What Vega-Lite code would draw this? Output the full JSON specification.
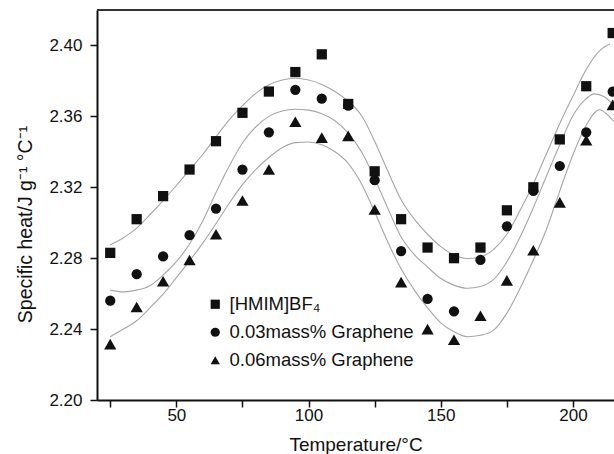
{
  "$schema": "https://vega.github.io/schema/vega-lite/v6.json",
  "width": 517,
  "height": 390,
  "autosize": {"type": "none"},
  "padding": {"left": 97, "top": 10, "right": 0, "bottom": 54},
  "background": "white",
  "config": {
    "view": {"stroke": null},
    "font": "Liberation Sans",
    "axis": {"labelFont": "Liberation Sans", "titleFont": "Liberation Sans", "labelColor": "#111", "titleColor": "#111", "titleFontWeight": "normal", "grid": false, "domainColor": "#111", "domainWidth": 2, "tickColor": "#111", "tickWidth": 1.5}
  },
  "datasets": {
    "pts": [
      {"t": 25, "cp": 2.283, "s": "[HMIM]BF₄"}, {"t": 35, "cp": 2.302, "s": "[HMIM]BF₄"}, {"t": 45, "cp": 2.315, "s": "[HMIM]BF₄"}, {"t": 55, "cp": 2.330, "s": "[HMIM]BF₄"}, {"t": 65, "cp": 2.346, "s": "[HMIM]BF₄"},
      {"t": 75, "cp": 2.362, "s": "[HMIM]BF₄"}, {"t": 85, "cp": 2.374, "s": "[HMIM]BF₄"}, {"t": 95, "cp": 2.385, "s": "[HMIM]BF₄"}, {"t": 105, "cp": 2.395, "s": "[HMIM]BF₄"}, {"t": 115, "cp": 2.367, "s": "[HMIM]BF₄"},
      {"t": 125, "cp": 2.329, "s": "[HMIM]BF₄"}, {"t": 135, "cp": 2.302, "s": "[HMIM]BF₄"}, {"t": 145, "cp": 2.286, "s": "[HMIM]BF₄"}, {"t": 155, "cp": 2.280, "s": "[HMIM]BF₄"}, {"t": 165, "cp": 2.286, "s": "[HMIM]BF₄"},
      {"t": 175, "cp": 2.307, "s": "[HMIM]BF₄"}, {"t": 185, "cp": 2.320, "s": "[HMIM]BF₄"}, {"t": 195, "cp": 2.347, "s": "[HMIM]BF₄"}, {"t": 205, "cp": 2.377, "s": "[HMIM]BF₄"}, {"t": 215, "cp": 2.407, "s": "[HMIM]BF₄"},
      {"t": 25, "cp": 2.256, "s": "0.03mass% Graphene"}, {"t": 35, "cp": 2.271, "s": "0.03mass% Graphene"}, {"t": 45, "cp": 2.281, "s": "0.03mass% Graphene"}, {"t": 55, "cp": 2.293, "s": "0.03mass% Graphene"}, {"t": 65, "cp": 2.308, "s": "0.03mass% Graphene"},
      {"t": 75, "cp": 2.330, "s": "0.03mass% Graphene"}, {"t": 85, "cp": 2.351, "s": "0.03mass% Graphene"}, {"t": 95, "cp": 2.375, "s": "0.03mass% Graphene"}, {"t": 105, "cp": 2.370, "s": "0.03mass% Graphene"}, {"t": 115, "cp": 2.366, "s": "0.03mass% Graphene"},
      {"t": 125, "cp": 2.324, "s": "0.03mass% Graphene"}, {"t": 135, "cp": 2.284, "s": "0.03mass% Graphene"}, {"t": 145, "cp": 2.257, "s": "0.03mass% Graphene"}, {"t": 155, "cp": 2.250, "s": "0.03mass% Graphene"}, {"t": 165, "cp": 2.279, "s": "0.03mass% Graphene"},
      {"t": 175, "cp": 2.298, "s": "0.03mass% Graphene"}, {"t": 185, "cp": 2.318, "s": "0.03mass% Graphene"}, {"t": 195, "cp": 2.332, "s": "0.03mass% Graphene"}, {"t": 205, "cp": 2.351, "s": "0.03mass% Graphene"}, {"t": 215, "cp": 2.374, "s": "0.03mass% Graphene"},
      {"t": 25, "cp": 2.2315, "s": "0.06mass% Graphene"}, {"t": 35, "cp": 2.2525, "s": "0.06mass% Graphene"}, {"t": 45, "cp": 2.267, "s": "0.06mass% Graphene"}, {"t": 55, "cp": 2.279, "s": "0.06mass% Graphene"}, {"t": 65, "cp": 2.2935, "s": "0.06mass% Graphene"},
      {"t": 75, "cp": 2.3125, "s": "0.06mass% Graphene"}, {"t": 85, "cp": 2.330, "s": "0.06mass% Graphene"}, {"t": 95, "cp": 2.357, "s": "0.06mass% Graphene"}, {"t": 105, "cp": 2.348, "s": "0.06mass% Graphene"}, {"t": 115, "cp": 2.349, "s": "0.06mass% Graphene"},
      {"t": 125, "cp": 2.3075, "s": "0.06mass% Graphene"}, {"t": 135, "cp": 2.2665, "s": "0.06mass% Graphene"}, {"t": 145, "cp": 2.240, "s": "0.06mass% Graphene"}, {"t": 155, "cp": 2.234, "s": "0.06mass% Graphene"}, {"t": 165, "cp": 2.2475, "s": "0.06mass% Graphene"},
      {"t": 175, "cp": 2.2675, "s": "0.06mass% Graphene"}, {"t": 185, "cp": 2.2845, "s": "0.06mass% Graphene"}, {"t": 195, "cp": 2.3115, "s": "0.06mass% Graphene"}, {"t": 205, "cp": 2.3465, "s": "0.06mass% Graphene"}, {"t": 215, "cp": 2.3665, "s": "0.06mass% Graphene"}
    ],
    "fit": [
      {"t": 25, "cp": 2.2875, "c": "A"}, {"t": 30, "cp": 2.2915, "c": "A"}, {"t": 35, "cp": 2.2970, "c": "A"}, {"t": 40, "cp": 2.3045, "c": "A"}, {"t": 45, "cp": 2.3125, "c": "A"},
      {"t": 50, "cp": 2.3210, "c": "A"}, {"t": 55, "cp": 2.3298, "c": "A"}, {"t": 60, "cp": 2.3385, "c": "A"}, {"t": 65, "cp": 2.3485, "c": "A"}, {"t": 70, "cp": 2.3580, "c": "A"},
      {"t": 75, "cp": 2.3660, "c": "A"}, {"t": 80, "cp": 2.3730, "c": "A"}, {"t": 85, "cp": 2.3778, "c": "A"}, {"t": 90, "cp": 2.3805, "c": "A"}, {"t": 95, "cp": 2.3815, "c": "A"},
      {"t": 100, "cp": 2.3805, "c": "A"}, {"t": 105, "cp": 2.3780, "c": "A"}, {"t": 110, "cp": 2.3740, "c": "A"}, {"t": 115, "cp": 2.3685, "c": "A"}, {"t": 120, "cp": 2.3605, "c": "A"},
      {"t": 125, "cp": 2.3460, "c": "A"}, {"t": 130, "cp": 2.3290, "c": "A"}, {"t": 135, "cp": 2.3130, "c": "A"}, {"t": 140, "cp": 2.3020, "c": "A"}, {"t": 145, "cp": 2.2935, "c": "A"},
      {"t": 150, "cp": 2.2865, "c": "A"}, {"t": 155, "cp": 2.2818, "c": "A"}, {"t": 160, "cp": 2.2798, "c": "A"}, {"t": 165, "cp": 2.2807, "c": "A"}, {"t": 170, "cp": 2.2850, "c": "A"},
      {"t": 175, "cp": 2.2935, "c": "A"}, {"t": 180, "cp": 2.3070, "c": "A"}, {"t": 185, "cp": 2.3220, "c": "A"}, {"t": 190, "cp": 2.3390, "c": "A"}, {"t": 195, "cp": 2.3560, "c": "A"},
      {"t": 200, "cp": 2.3715, "c": "A"}, {"t": 205, "cp": 2.3865, "c": "A"}, {"t": 210, "cp": 2.3970, "c": "A"}, {"t": 214, "cp": 2.4010, "c": "A"},
      {"t": 25, "cp": 2.2620, "c": "B"}, {"t": 30, "cp": 2.2610, "c": "B"}, {"t": 35, "cp": 2.2620, "c": "B"}, {"t": 40, "cp": 2.2645, "c": "B"}, {"t": 45, "cp": 2.2705, "c": "B"},
      {"t": 50, "cp": 2.2780, "c": "B"}, {"t": 55, "cp": 2.2880, "c": "B"}, {"t": 60, "cp": 2.3010, "c": "B"}, {"t": 65, "cp": 2.3170, "c": "B"}, {"t": 70, "cp": 2.3320, "c": "B"},
      {"t": 75, "cp": 2.3450, "c": "B"}, {"t": 80, "cp": 2.3540, "c": "B"}, {"t": 85, "cp": 2.3600, "c": "B"}, {"t": 90, "cp": 2.3630, "c": "B"}, {"t": 95, "cp": 2.3640, "c": "B"},
      {"t": 100, "cp": 2.3635, "c": "B"}, {"t": 105, "cp": 2.3615, "c": "B"}, {"t": 110, "cp": 2.3575, "c": "B"}, {"t": 115, "cp": 2.3505, "c": "B"}, {"t": 120, "cp": 2.3400, "c": "B"},
      {"t": 125, "cp": 2.3250, "c": "B"}, {"t": 130, "cp": 2.3080, "c": "B"}, {"t": 135, "cp": 2.2920, "c": "B"}, {"t": 140, "cp": 2.2820, "c": "B"}, {"t": 145, "cp": 2.2750, "c": "B"},
      {"t": 150, "cp": 2.2685, "c": "B"}, {"t": 155, "cp": 2.2648, "c": "B"}, {"t": 160, "cp": 2.2630, "c": "B"}, {"t": 165, "cp": 2.2640, "c": "B"}, {"t": 170, "cp": 2.2680, "c": "B"},
      {"t": 175, "cp": 2.2780, "c": "B"}, {"t": 180, "cp": 2.2920, "c": "B"}, {"t": 185, "cp": 2.3085, "c": "B"}, {"t": 190, "cp": 2.3265, "c": "B"}, {"t": 195, "cp": 2.3440, "c": "B"},
      {"t": 200, "cp": 2.3605, "c": "B"}, {"t": 205, "cp": 2.3700, "c": "B"}, {"t": 208, "cp": 2.3727, "c": "B"}, {"t": 212, "cp": 2.3709, "c": "B"}, {"t": 215.3, "cp": 2.3662, "c": "B"},
      {"t": 25, "cp": 2.2357, "c": "C"}, {"t": 30, "cp": 2.2400, "c": "C"}, {"t": 35, "cp": 2.2447, "c": "C"}, {"t": 40, "cp": 2.2520, "c": "C"}, {"t": 45, "cp": 2.2597, "c": "C"},
      {"t": 50, "cp": 2.2690, "c": "C"}, {"t": 55, "cp": 2.2785, "c": "C"}, {"t": 60, "cp": 2.2885, "c": "C"}, {"t": 65, "cp": 2.2995, "c": "C"}, {"t": 70, "cp": 2.3110, "c": "C"},
      {"t": 75, "cp": 2.3215, "c": "C"}, {"t": 80, "cp": 2.3300, "c": "C"}, {"t": 85, "cp": 2.3368, "c": "C"}, {"t": 90, "cp": 2.3423, "c": "C"}, {"t": 95, "cp": 2.3452, "c": "C"},
      {"t": 100, "cp": 2.3455, "c": "C"}, {"t": 105, "cp": 2.3440, "c": "C"}, {"t": 110, "cp": 2.3400, "c": "C"}, {"t": 115, "cp": 2.3335, "c": "C"}, {"t": 120, "cp": 2.3220, "c": "C"},
      {"t": 125, "cp": 2.3060, "c": "C"}, {"t": 130, "cp": 2.2890, "c": "C"}, {"t": 135, "cp": 2.2740, "c": "C"}, {"t": 140, "cp": 2.2620, "c": "C"}, {"t": 145, "cp": 2.2520, "c": "C"},
      {"t": 150, "cp": 2.2435, "c": "C"}, {"t": 155, "cp": 2.2385, "c": "C"}, {"t": 160, "cp": 2.2357, "c": "C"}, {"t": 165, "cp": 2.2365, "c": "C"}, {"t": 170, "cp": 2.2394, "c": "C"},
      {"t": 175, "cp": 2.2490, "c": "C"}, {"t": 180, "cp": 2.2630, "c": "C"}, {"t": 185, "cp": 2.2790, "c": "C"}, {"t": 190, "cp": 2.2965, "c": "C"}, {"t": 195, "cp": 2.3180, "c": "C"},
      {"t": 200, "cp": 2.3385, "c": "C"}, {"t": 205, "cp": 2.3550, "c": "C"}, {"t": 210, "cp": 2.3637, "c": "C"}, {"t": 213, "cp": 2.3610, "c": "C"}, {"t": 215.5, "cp": 2.3570, "c": "C"}
    ]
  },
  "layer": [
    {
      "data": {"name": "fit"},
      "mark": {"type": "line", "color": "#a6a6a6", "strokeWidth": 1.1, "interpolate": "monotone"},
      "encoding": {
        "x": {"field": "t", "type": "quantitative", "scale": {"domain": [20, 215.5], "nice": false, "zero": false},
          "axis": {"title": "Temperature/°C", "values": [25, 50, 75, 100, 125, 150, 175, 200], "labelExpr": "datum.value % 50 == 0 ? datum.label : ''", "labelFontSize": 17, "titleFontSize": 19, "tickSize": 7, "labelPadding": 0, "titleBaseline": "alphabetic", "titleY": 50, "labelFlush": false}},
        "y": {"field": "cp", "type": "quantitative", "scale": {"domain": [2.2, 2.42], "nice": false, "zero": false},
          "axis": {"title": "Specific heat/J g⁻¹ °C⁻¹", "values": [2.2, 2.22, 2.24, 2.26, 2.28, 2.3, 2.32, 2.34, 2.36, 2.38, 2.4], "labelExpr": "round(datum.value * 100) % 4 == 0 ? format(datum.value, '.2f') : ''", "labelFontSize": 17, "titleFontSize": 19.5, "tickSize": 7, "labelPadding": 8, "titleBaseline": "alphabetic", "titleX": -66, "titleY": 214, "labelFlush": false}},
        "detail": {"field": "c", "type": "nominal"}
      }
    },
    {
      "data": {"name": "pts"},
      "mark": {"type": "point", "filled": true, "color": "#111", "opacity": 1},
      "encoding": {
        "x": {"field": "t", "type": "quantitative"},
        "y": {"field": "cp", "type": "quantitative"},
        "size": {"condition": {"test": "datum.s == '0.06mass% Graphene'", "value": 150}, "value": 105},
        "shape": {"field": "s", "type": "nominal",
          "scale": {"domain": ["[HMIM]BF₄", "0.03mass% Graphene", "0.06mass% Graphene"], "range": ["square", "circle", "triangle-up"]},
          "legend": {"title": null, "orient": "none", "legendX": 109, "legendY": 285, "padding": 0, "labelFont": "Liberation Sans", "labelFontSize": 18.5, "labelColor": "#111", "labelOffset": 5, "labelLimit": 400, "symbolSize": 85, "symbolFillColor": "#111", "symbolStrokeWidth": 0, "rowPadding": 9}}
      }
    },
    {
      "data": {"values": [{"top": 2.42}]},
      "mark": {"type": "rule", "color": "#333", "strokeWidth": 2},
      "encoding": {"y": {"field": "top", "type": "quantitative"}}
    }
  ]
}
